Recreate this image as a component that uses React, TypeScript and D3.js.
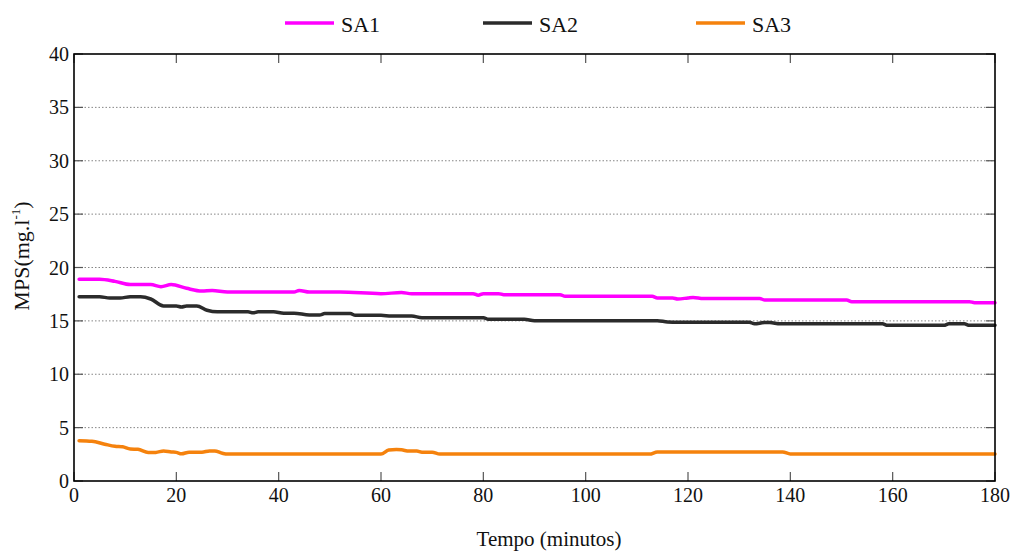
import React from "react";
import * as d3 from "d3";

const sa1Times = [1, 5, 8, 11, 15, 17, 19, 22, 25, 27, 30, 43, 44, 46, 52, 60, 64, 66, 78, 79, 80, 83, 84, 95, 96, 113, 114, 117, 118, 120, 121, 123, 134, 135, 151, 152, 175, 176, 180];
const sa1Values = [18.9, 18.9, 18.7, 18.4, 18.4, 18.2, 18.4, 18.05, 17.8, 17.85, 17.7, 17.7, 17.85, 17.7, 17.7, 17.55, 17.65, 17.55, 17.55, 17.4, 17.55, 17.55, 17.45, 17.45, 17.3, 17.3, 17.15, 17.15, 17.05, 17.15, 17.2, 17.1, 17.1, 16.95, 16.95, 16.8, 16.8, 16.7, 16.7];

const sa2Times = [1, 5, 7, 9, 11, 13, 15, 17.5, 20, 21, 22, 24, 26, 28, 34, 35, 36, 39, 41, 43, 46, 48, 49, 54, 55, 60, 62, 66, 68, 80, 81, 88, 90, 114, 116, 118, 132, 133, 135, 136, 138, 158, 159, 170, 171, 174, 175, 180];
const sa2Values = [17.25, 17.25, 17.15, 17.15, 17.25, 17.25, 17.05, 16.4, 16.4, 16.3, 16.4, 16.4, 16.0, 15.85, 15.85, 15.75, 15.85, 15.85, 15.72, 15.72, 15.55, 15.55, 15.68, 15.68, 15.52, 15.52, 15.45, 15.45, 15.3, 15.3, 15.15, 15.15, 15.02, 15.02, 14.9, 14.88, 14.88, 14.72, 14.85, 14.85, 14.72, 14.72, 14.58, 14.58, 14.72, 14.72, 14.58, 14.58];

const sa3Times = [1, 3.5, 6, 8, 9.5, 11, 12.5, 14.5, 16, 17.5, 19, 20, 21, 22.5, 25, 26.5, 27.5, 29, 30, 60, 61.5, 63, 64, 65.5, 67, 68, 70, 71.5, 112.5, 114, 138.5, 140, 180];
const sa3Values = [3.78, 3.72, 3.45, 3.25, 3.2, 3.0, 2.97, 2.68, 2.68, 2.82, 2.72, 2.68, 2.55, 2.7, 2.7, 2.82, 2.82, 2.6, 2.52, 2.52, 2.9, 2.95, 2.92, 2.8, 2.8, 2.7, 2.7, 2.52, 2.52, 2.72, 2.72, 2.54, 2.54];

const seriesNames = ["SA1", "SA2", "SA3"];
const seriesColors = ["#ff00ff", "#2b2b2b", "#f5820d"];
const xTicks = [0, 20, 40, 60, 80, 100, 120, 140, 160, 180];
const yTicks = [0, 5, 10, 15, 20, 25, 30, 35, 40];

const W = 1013;
const H = 551;
const L = 74, R = 995, T = 54, B = 481;
const FONT = "'Liberation Serif', 'DejaVu Serif', serif";

export default function App() {
  const x = d3.scaleLinear().domain([0, 180]).range([L, R]);
  const y = d3.scaleLinear().domain([0, 40]).range([B, T]);
  const line = d3
    .line<[number, number]>()
    .x((d) => x(d[0]))
    .y((d) => y(d[1]))
    .curve(d3.curveMonotoneX);

  const series = [
    sa1Times.map((t, i) => [t, sa1Values[i]] as [number, number]),
    sa2Times.map((t, i) => [t, sa2Values[i]] as [number, number]),
    sa3Times.map((t, i) => [t, sa3Values[i]] as [number, number]),
  ];

  const legendX = [285, 483, 696];

  return (
    <svg
      width={W}
      height={H}
      style={{ position: "absolute", left: 0, top: 0, background: "#fff" }}
      fontFamily={FONT}
    >
      <rect x={0} y={0} width={W} height={H} fill="#fff" />
      {yTicks
        .filter((v) => v > 0 && v < 40)
        .map((v) => (
          <line
            key={"g" + v}
            x1={L}
            x2={R}
            y1={y(v)}
            y2={y(v)}
            stroke="#666"
            strokeWidth={0.8}
            strokeDasharray="1.5,2"
          />
        ))}
      {xTicks.map((v) => (
        <g key={"xt" + v}>
          <line x1={x(v)} x2={x(v)} y1={B} y2={B - 9} stroke="#555" strokeWidth={1.2} />
          <line x1={x(v)} x2={x(v)} y1={T} y2={T + 9} stroke="#555" strokeWidth={1.2} />
          <text x={x(v)} y={502} textAnchor="middle" fontSize={20} fill="#111">
            {v}
          </text>
        </g>
      ))}
      {yTicks.map((v) => (
        <g key={"yt" + v}>
          <line x1={L} x2={L + 9} y1={y(v)} y2={y(v)} stroke="#555" strokeWidth={1.2} />
          <line x1={R} x2={R - 9} y1={y(v)} y2={y(v)} stroke="#555" strokeWidth={1.2} />
          <text x={69} y={y(v) + 7} textAnchor="end" fontSize={20} fill="#111">
            {v}
          </text>
        </g>
      ))}
      {series.map((s, i) => (
        <path
          key={seriesNames[i]}
          d={line(s) || ""}
          fill="none"
          stroke={seriesColors[i]}
          strokeWidth={3.5}
          strokeLinejoin="round"
          strokeLinecap="round"
        />
      ))}
      <rect x={L} y={T} width={R - L} height={B - T} fill="none" stroke="#000" strokeWidth={1.6} />
      {seriesNames.map((n, i) => (
        <g key={"lg" + n}>
          <line
            x1={legendX[i]}
            x2={legendX[i] + 49}
            y1={23}
            y2={23}
            stroke={seriesColors[i]}
            strokeWidth={3.5}
          />
          <text x={legendX[i] + 56} y={32} fontSize={22} fill="#111">
            {n}
          </text>
        </g>
      ))}
      <text x={549} y={546} textAnchor="middle" fontSize={21} fill="#111">
        Tempo (minutos)
      </text>
      <text
        transform={`translate(29,256) rotate(-90)`}
        textAnchor="middle"
        fontSize={22}
        fill="#111"
      >
        MPS(mg.l
        <tspan fontSize={13} dy={-9}>
          -1
        </tspan>
        <tspan dy={9}>)</tspan>
      </text>
    </svg>
  );
}
